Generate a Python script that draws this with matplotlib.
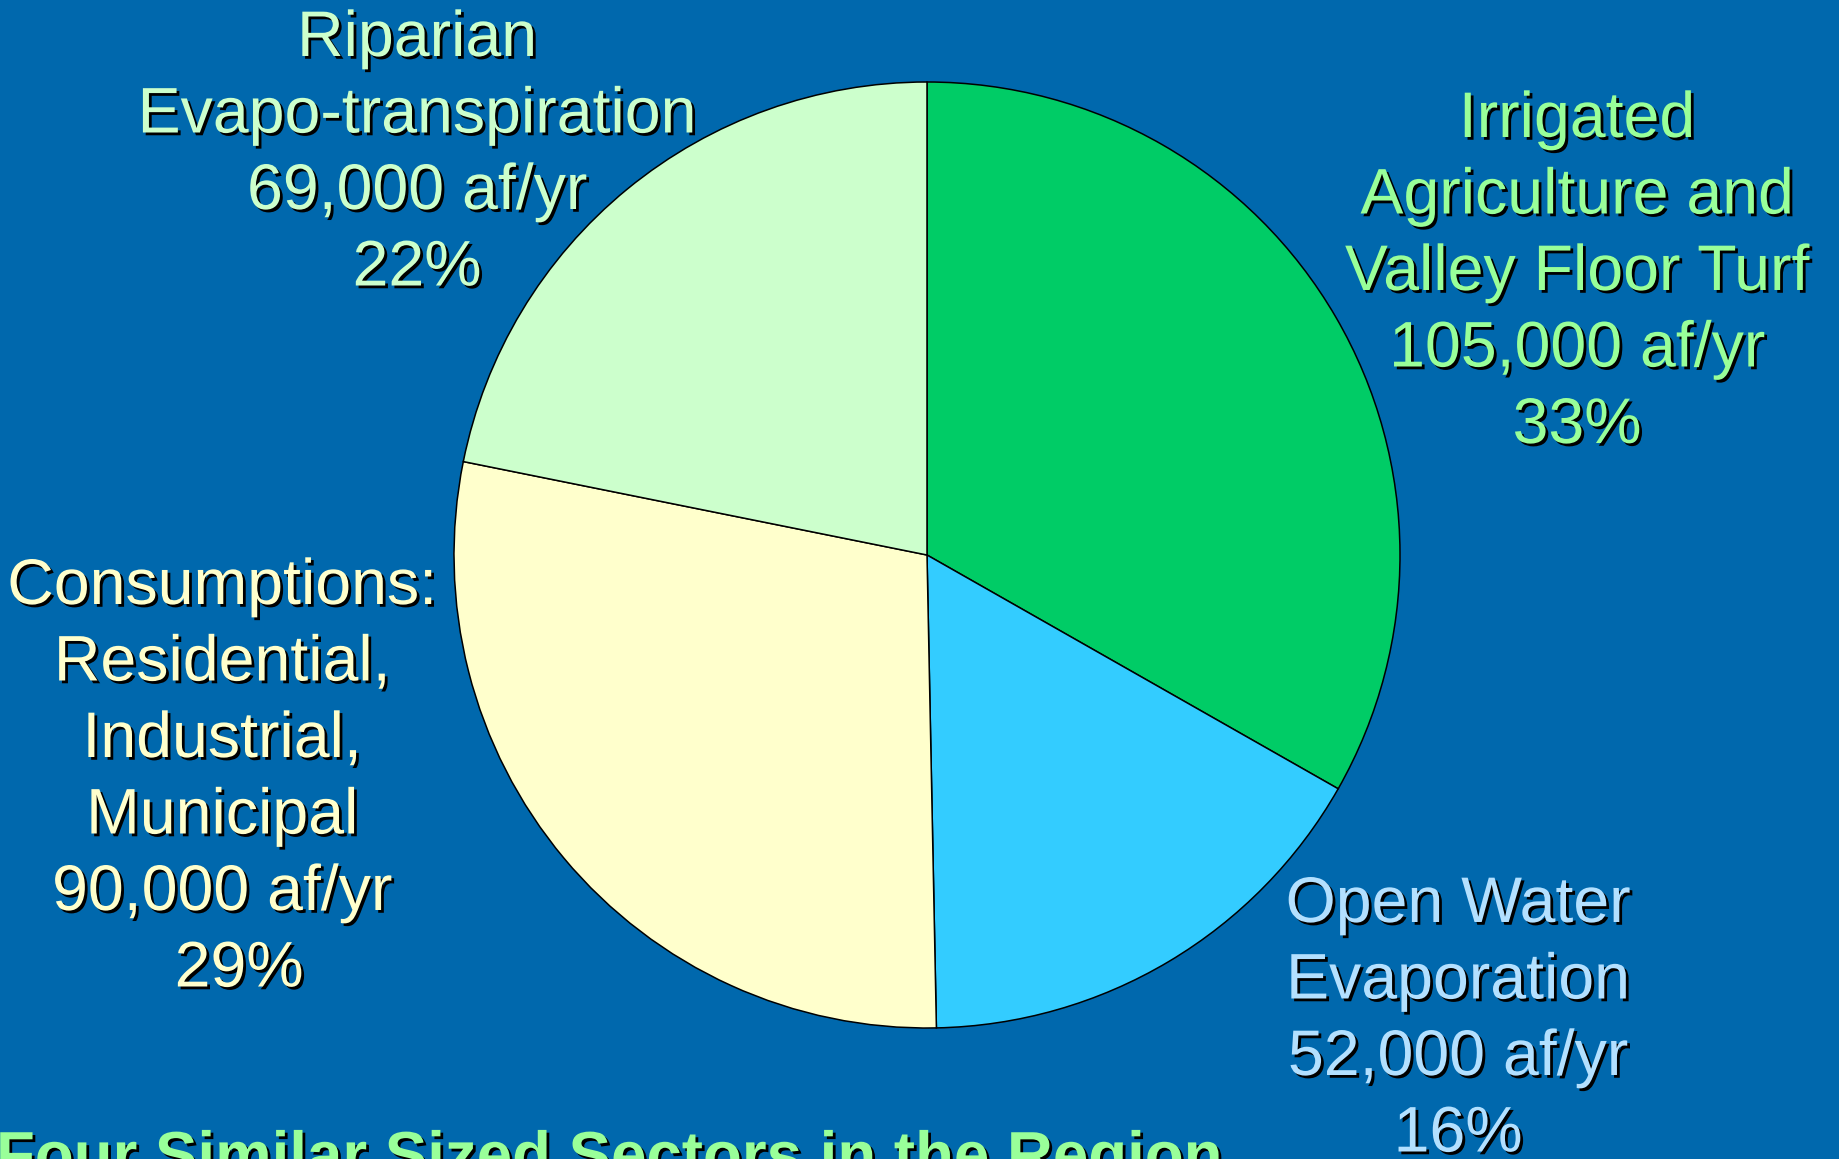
import matplotlib.pyplot as plt
import matplotlib.patheffects as pe

# water use by sector (af/yr)
sectors = ['Irrigated Agriculture and Valley Floor Turf', 'Open Water Evaporation',
           'Consumptions: Residential, Industrial, Municipal', 'Riparian Evapo-transpiration']
volumes = [105000, 52000, 90000, 69000]
percents = ['33%', '16%', '29%', '22%']
wedge_colors = ['#00CC66', '#33CCFF', '#FFFFCC', '#CCFFCC']
label_colors = ['#99FF99', '#B3E0FF', '#FFFFCC', '#CCFFCC']
label_lines = [
    ['Irrigated', 'Agriculture and', 'Valley Floor Turf'],
    ['Open Water', 'Evaporation'],
    ['Consumptions:', 'Residential,', 'Industrial,', 'Municipal'],
    ['Riparian', 'Evapo-transpiration'],
]
caption = 'Four Similar Sized Sectors in the Region'

W, H = 1839, 1159
bg = '#0068AD'
plt.rcParams['font.family'] = ['Liberation Sans', 'DejaVu Sans']

fig = plt.figure(figsize=(W / 100, H / 100), dpi=100, facecolor=bg)
ax = fig.add_axes([0, 0, 1, 1])
ax.set_facecolor(bg)

ax.pie(volumes, colors=wedge_colors, startangle=90, counterclock=False,
       center=(927, H - 555), radius=473,
       wedgeprops=dict(edgecolor='black', linewidth=1.1))
ax.set_xlim(0, W)
ax.set_ylim(0, H)
ax.set_aspect('equal')
ax.axis('off')

shadow = [pe.SimplePatchShadow(offset=(2.0, -2.0), shadow_rgbFace='black', alpha=1), pe.Normal()]
fs = 46.4

# label anchors: centre x, baseline of first line (pixels from top), line step
anchors = [(1577, 137), (1458, 922), (222, 604), (417, 56)]
step = 76.5

for lines, vol, pct, col, (cx, y0) in zip(label_lines, volumes, percents, label_colors, anchors):
    rows = lines + ['{:,} af/yr'.format(vol), pct]
    for i, row in enumerate(rows):
        x = cx
        if row == '29%':
            x = cx + 17
        ax.text(x, H - (y0 + i * step), row, ha='center', va='baseline',
                fontsize=fs, color=col, path_effects=shadow)

ax.text(-4, H - 1176, caption, ha='left', va='baseline', fontsize=45.8,
        fontweight='bold', color='#99FF99', path_effects=shadow)

fig.savefig('out.png', dpi=100, facecolor=bg)
